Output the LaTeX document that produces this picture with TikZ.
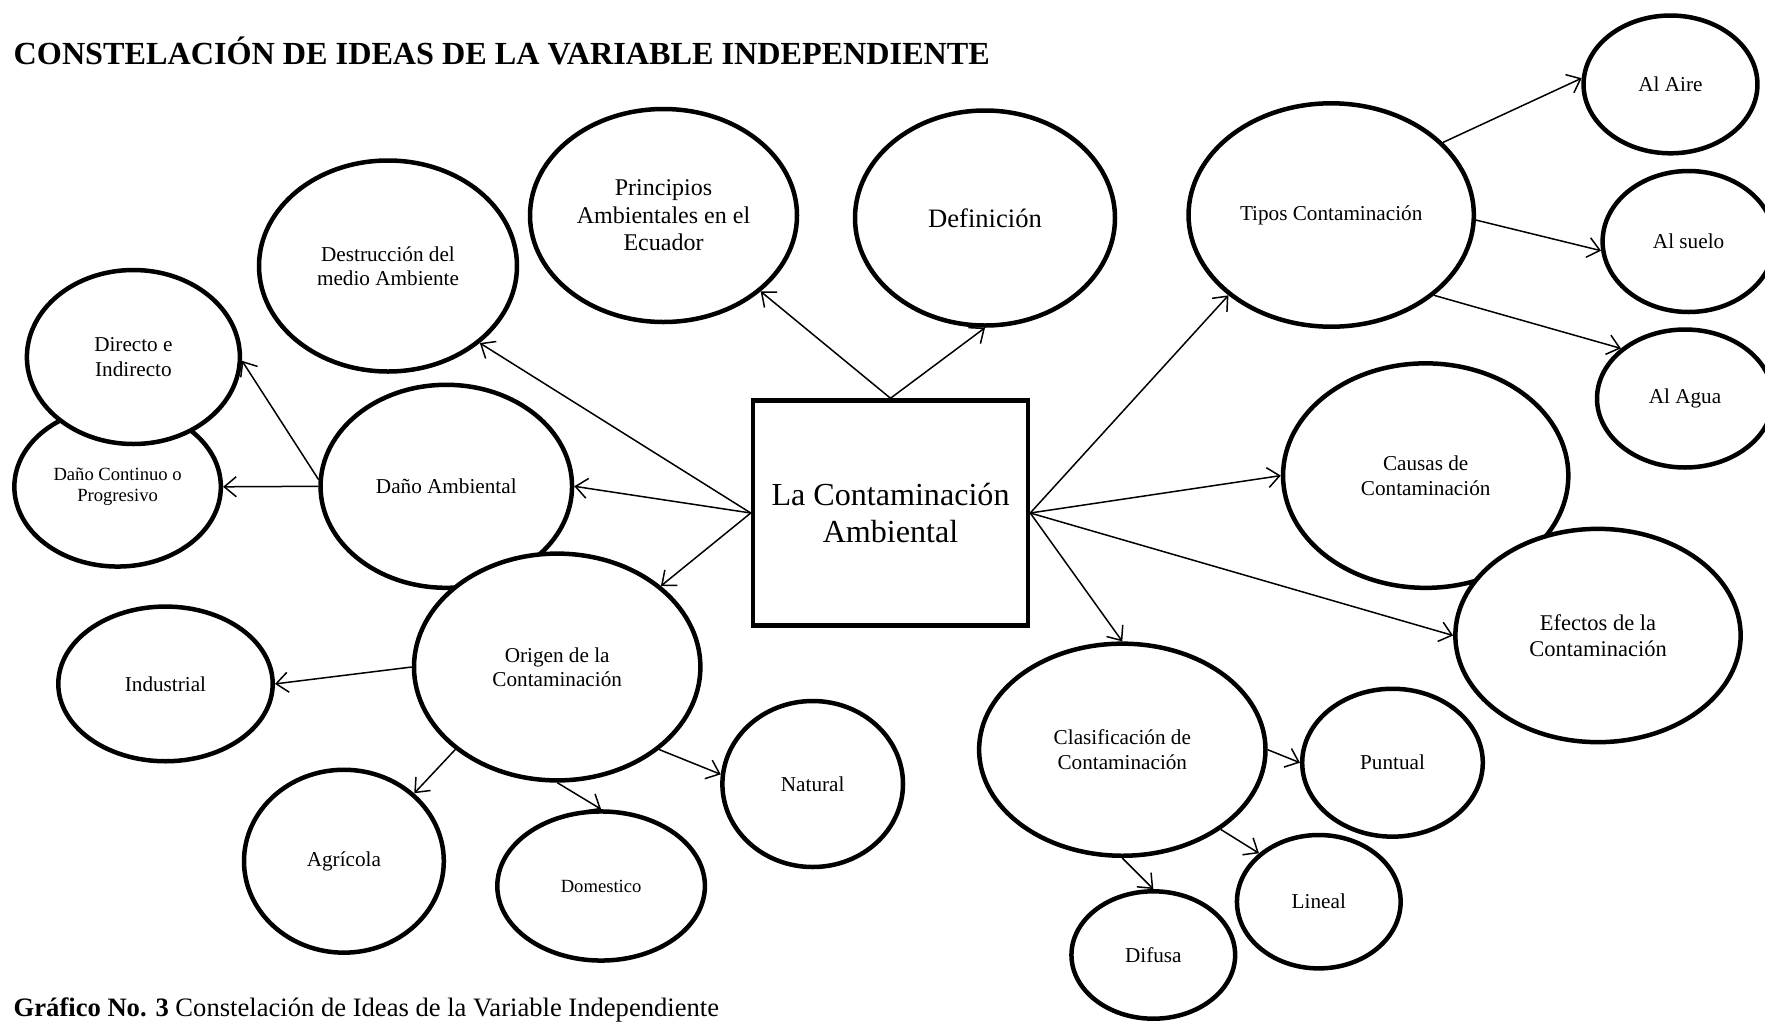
\documentclass[tikz,border=0pt]{standalone}
\usepackage{fontspec}
\setmainfont{Liberation Serif}
\usetikzlibrary{shapes.geometric,arrows.meta}
\begin{document}
\begin{tikzpicture}[x=1pt,y=-1pt,
  bub/.style={ellipse, draw, line width=4.5pt, fill=white, inner sep=0pt, align=center,
              font=\fontsize{21.2}{24.4}\selectfont},
  sz/.style 2 args={minimum width=#1pt, minimum height=#2pt},
  smalltxt/.style={font=\fontsize{18.6}{20.5}\selectfont},
  midtxt/.style={font=\fontsize{24}{27.6}\selectfont},
  conn/.style={line width=1.5pt, -{Straight Barb[length=12pt,width=20pt]}},
]
\useasboundingbox (0,0) rectangle (1765,1021);
\fill[white] (0,0) rectangle (1765,1021);

% texts
\node[anchor=base west, inner sep=0pt, font=\bfseries\fontsize{32.2}{36}\selectfont] (title) at (13.5,64.3)
  {CONSTELACIÓN DE IDEAS DE LA VARIABLE INDEPENDIENTE};
\node[anchor=base west, inner sep=0pt, font=\fontsize{26.6}{30}\selectfont] (cap) at (13.5,1016)
  {\textbf{Gráfico No. 3} Constelación de Ideas de la Variable Independiente};

% central box
\node[draw, line width=4.5pt, fill=white, minimum width=275pt, minimum height=225pt, inner sep=0pt,
      align=center, font=\fontsize{32.1}{37}\selectfont] (ctr) at (890.5,513) {La Contaminación\\Ambiental};

% ellipses
\node[bub, sz={260}{215}, font=\fontsize{26.6}{30.6}\selectfont] (def) at (985,218) {Definición};
\node[bub, sz={267}{213}, midtxt] (pri) at (663.5,215.5) {Principios\\Ambientales en el\\Ecuador};
\node[bub, sz={258}{211}] (des) at (388,266) {Destrucción del\\medio Ambiente};
\node[bub, sz={206.5}{159.5}, smalltxt] (con) at (117.6,486.8) {Daño Continuo o\\Progresivo};
\node[bub, sz={213}{174}] (dir) at (133.4,357) {Directo e\\Indirecto};
\node[bub, sz={251.5}{203}] (dan) at (446.3,486.3) {Daño Ambiental};
\node[bub, sz={286.4}{226.8}] (ori) at (557.2,667) {Origen de la\\Contaminación};
\node[bub, sz={214.4}{154.7}] (ind) at (165.5,683.9) {Industrial};
\node[bub, sz={199.8}{182.9}] (agr) at (343.9,861.2) {Agrícola};
\node[bub, sz={207.6}{149.1}, smalltxt] (dom) at (601.1,886) {Domestico};
\node[bub, sz={180.6}{166}] (nat) at (812.7,784) {Natural};
\node[bub, sz={285.3}{223.4}] (tip) at (1331.2,215) {Tipos Contaminación};
\node[bub, sz={173.9}{137.8}] (aire) at (1670.5,84.4) {Al Aire};
\node[bub, sz={172}{141}] (sue) at (1688.6,241.5) {Al suelo};
\node[bub, sz={176}{138}] (agu) at (1685,398.5) {Al Agua};
\node[bub, sz={285.3}{224.5}] (cau) at (1425.7,475.6) {Causas de\\Contaminación};
\node[bub, sz={285.3}{213.3}, font=\fontsize{22.5}{26.5}\selectfont] (efe) at (1598,635.5) {Efectos de la\\Contaminación};
\node[bub, sz={286.4}{212.1}] (cla) at (1122.3,749.7) {Clasificación de\\Contaminación};
\node[bub, sz={180.6}{147.9}] (pun) at (1392.5,762.7) {Puntual};
\node[bub, sz={163.7}{133.4}] (lin) at (1318.8,901.7) {Lineal};
\node[bub, sz={163.7}{127.4}] (dif) at (1153.3,955) {Difusa};

% connectors
\draw[conn] (ctr.north) -- (def.south);
\draw[conn] (ctr.north) -- (pri.-38);
\draw[conn] (ctr.west) -- (des.-40);
\draw[conn] (ctr.west) -- (dan.east);
\draw[conn] (ctr.west) -- (ori.38);
\draw[conn] (ctr.east) -- (tip.218);
\draw[conn] (ctr.east) -- (cau.west);
\draw[conn] (ctr.east) -- (efe.west);
\draw[conn] (ctr.east) -- (cla.north);
\draw[conn] (tip.33) -- (aire.176);
\draw[conn] (tip.-2) -- (sue.186);
\draw[conn] (tip.-38) -- (agu.142);
\draw[conn] (dan.west) -- (con.east);
\draw[conn] (dan.177) -- (dir.-2);
\draw[conn] (ori.west) -- (ind.east);
\draw[conn] (ori.219) -- (agr.44);
\draw[conn] (ori.south) -- (dom.north);
\draw[conn] (ori.-39) -- (nat.174);
\draw[conn] (cla.east) -- (pun.west);
\draw[conn] (cla.-39) -- (lin.141);
\draw[conn] (cla.south) -- (dif.north);
\end{tikzpicture}
\end{document}
